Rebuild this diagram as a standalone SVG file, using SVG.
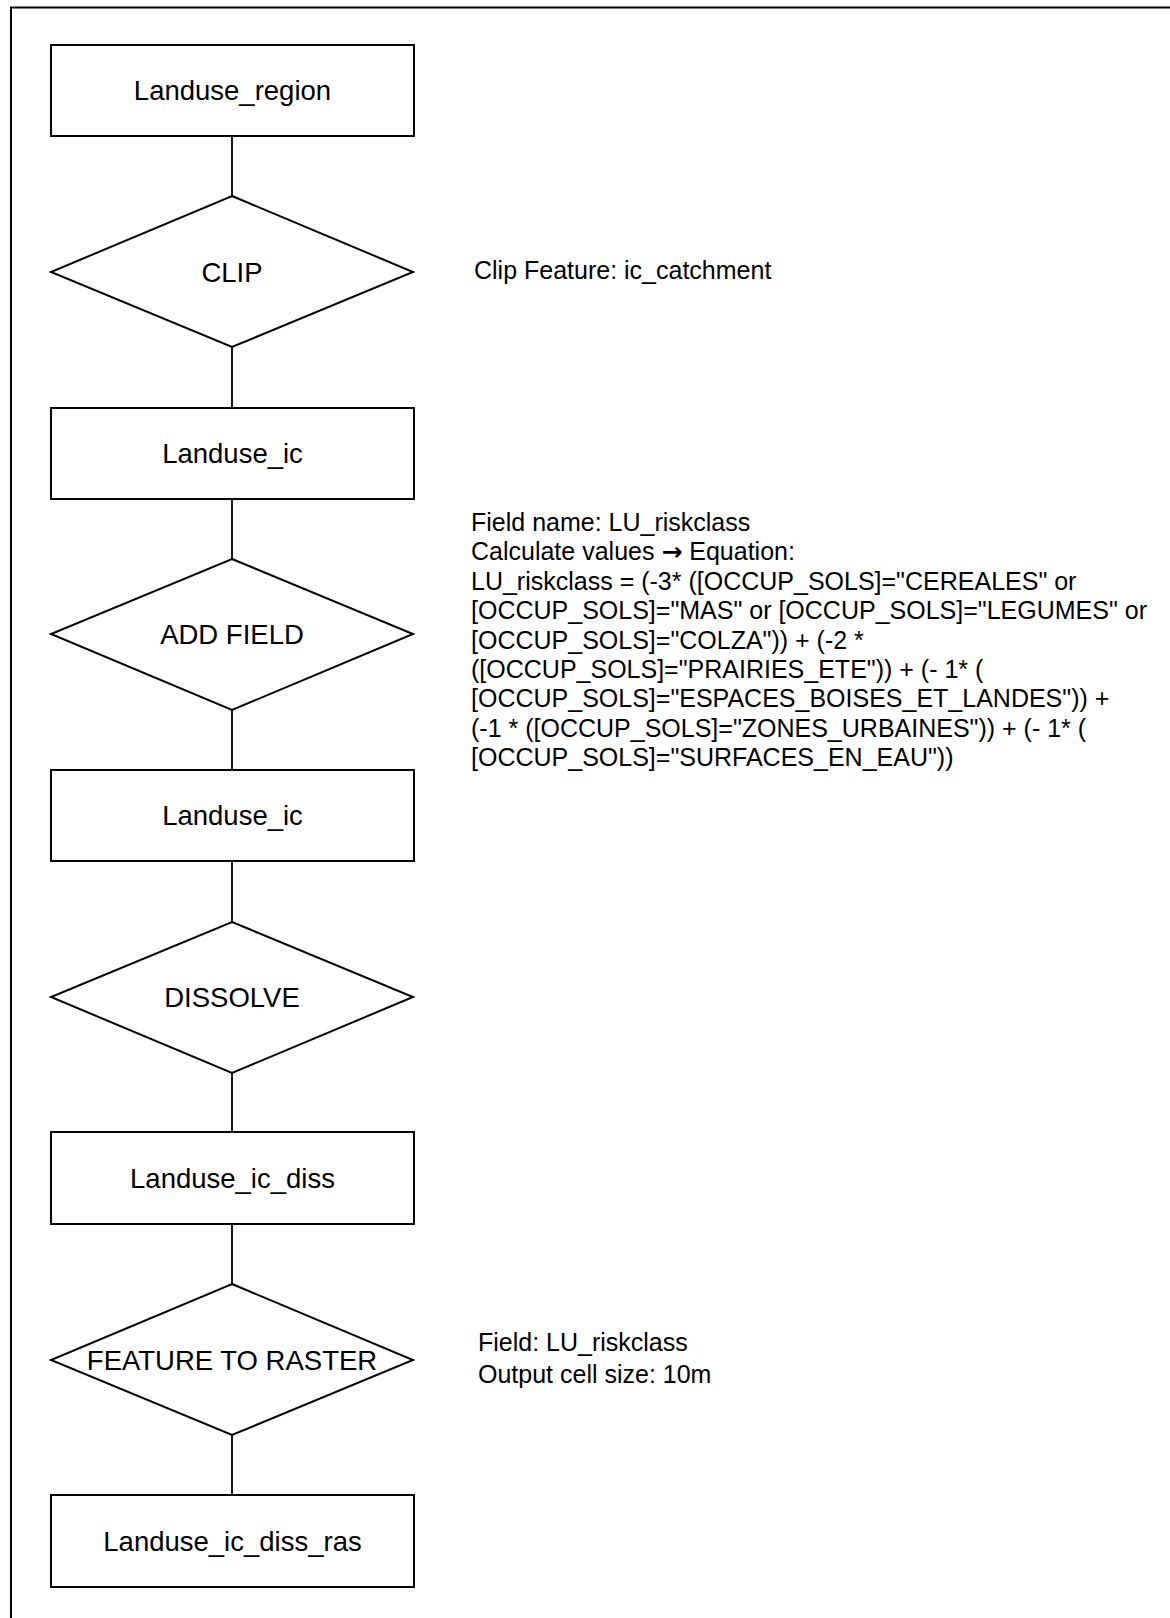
<svg xmlns="http://www.w3.org/2000/svg" width="1170" height="1618" viewBox="0 0 1170 1618">
<style>
.node{fill:#fff;stroke:#000;stroke-width:2}
.lbl{font-family:"Liberation Sans",Arial,sans-serif;font-size:27.5px;fill:#000;text-anchor:middle}
.note{font-family:"Liberation Sans",Arial,"DejaVu Sans",sans-serif;font-size:25px;fill:#000}
.arrow{font-family:"DejaVu Sans",sans-serif;font-size:25px;font-weight:bold}
.conn line{stroke:#000;stroke-width:1.8}
.frame{stroke:#000;stroke-width:2;fill:none}
</style>
<rect width="1170" height="1618" fill="#fff"/>
<g id="frame">
<path class="frame" d="M11,1618 V7.5 H1170"/>
</g>
<g id="connectors" class="conn">
<line x1="232" y1="136" x2="232" y2="196"/>
<line x1="232" y1="347" x2="232" y2="408"/>
<line x1="232" y1="499" x2="232" y2="559"/>
<line x1="232" y1="710" x2="232" y2="770"/>
<line x1="232" y1="861" x2="232" y2="922"/>
<line x1="232" y1="1073" x2="232" y2="1132"/>
<line x1="232" y1="1224" x2="232" y2="1284"/>
<line x1="232" y1="1435" x2="232" y2="1495"/>
</g>
<g id="landuse_region">
<rect class="node" x="51" y="45" width="363" height="91"/>
<text class="lbl" x="232.5" y="100">Landuse_region</text>
</g>
<g id="clip">
<polygon class="node" points="232,196 413,272 232,347 51,272"/>
<text class="lbl" x="232" y="282">CLIP</text>
</g>
<g id="landuse_ic_1">
<rect class="node" x="51" y="408" width="363" height="91"/>
<text class="lbl" x="232.5" y="463">Landuse_ic</text>
</g>
<g id="add_field">
<polygon class="node" points="232,559 413,634 232,710 51,634"/>
<text class="lbl" x="232" y="644">ADD FIELD</text>
</g>
<g id="landuse_ic_2">
<rect class="node" x="51" y="770" width="363" height="91"/>
<text class="lbl" x="232.5" y="825">Landuse_ic</text>
</g>
<g id="dissolve">
<polygon class="node" points="232,922 413,997 232,1073 51,997"/>
<text class="lbl" x="232" y="1007">DISSOLVE</text>
</g>
<g id="landuse_ic_diss">
<rect class="node" x="51" y="1132" width="363" height="92"/>
<text class="lbl" x="232.5" y="1188">Landuse_ic_diss</text>
</g>
<g id="feature_to_raster">
<polygon class="node" points="232,1284 413,1360 232,1435 51,1360"/>
<text class="lbl" x="232" y="1370">FEATURE TO RASTER</text>
</g>
<g id="landuse_ic_diss_ras">
<rect class="node" x="51" y="1495" width="363" height="92"/>
<text class="lbl" x="232.5" y="1551">Landuse_ic_diss_ras</text>
</g>
<g id="note_clip">
<text class="note" x="474" y="279">Clip Feature: ic_catchment</text>
</g>
<g id="note_add_field">
<text class="note" x="471" y="530.5">Field name: LU_riskclass</text>
<text class="note" x="471" y="560">Calculate values <tspan class="arrow">→</tspan> Equation:</text>
<text class="note" x="471" y="589.5">LU_riskclass = (-3* ([OCCUP_SOLS]="CEREALES" or</text>
<text class="note" x="471" y="619">[OCCUP_SOLS]="MAS" or [OCCUP_SOLS]="LEGUMES" or</text>
<text class="note" x="471" y="648.5">[OCCUP_SOLS]="COLZA")) + (-2 *</text>
<text class="note" x="471" y="678">([OCCUP_SOLS]="PRAIRIES_ETE")) + (- 1* (</text>
<text class="note" x="471" y="707">[OCCUP_SOLS]="ESPACES_BOISES_ET_LANDES")) +</text>
<text class="note" x="471" y="736.5">(-1 * ([OCCUP_SOLS]="ZONES_URBAINES")) + (- 1* (</text>
<text class="note" x="471" y="766">[OCCUP_SOLS]="SURFACES_EN_EAU"))</text>
</g>
<g id="note_raster">
<text class="note" x="478" y="1351">Field: LU_riskclass</text>
<text class="note" x="478" y="1383">Output cell size: 10m</text>
</g>
</svg>
